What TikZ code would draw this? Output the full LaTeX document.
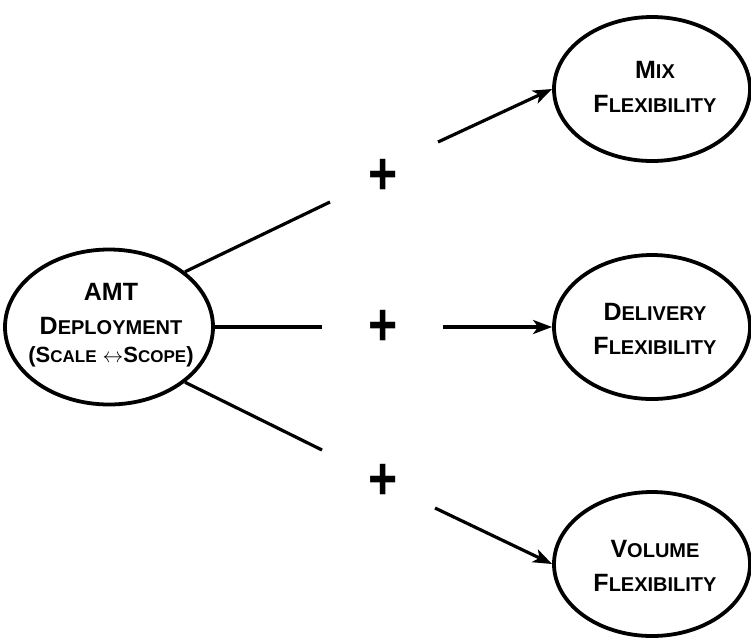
\documentclass[tikz,border=0pt]{standalone}
\usepackage{fontspec}
\setmainfont{Liberation Sans}
\usetikzlibrary{shapes.geometric,arrows.meta}
% faked small capitals for the bubble labels
\newcommand{\smc}[1]{{\fontsize{20}{20}\selectfont #1}}
\newcommand{\tinysmc}[1]{{\fontsize{17}{17}\selectfont #1}}
\begin{document}
\begin{tikzpicture}[x=1pt,y=-1pt,
  bubble/.style={ellipse, draw, line width=3.8pt, inner sep=0pt},
  target/.style={bubble, minimum width=196pt, minimum height=144pt},
  caption/.style={inner sep=0pt, align=center,
    font=\bfseries\fontsize{25}{34}\selectfont},
  link/.style={line width=3.2pt},
  flow/.style={line width=3.2pt, -{Stealth[length=19pt,width=14pt,inset=5pt]}},
  plus/.style={font=\bfseries\fontsize{50}{50}\selectfont, inner sep=0pt}]
\useasboundingbox (0,0) rectangle (751,641);

% source bubble
\node[bubble, minimum width=208pt, minimum height=155pt] (amt) at (109,327) {};
\node[caption] (amt-t) at (111,325)
  {AMT\\D\smc{EPLOYMENT}\\[-6pt]{\fontsize{22}{22}\selectfont (S\tinysmc{CALE} $\leftrightarrow$S\tinysmc{COPE})}};

% flexibility bubbles
\node[target] (mix) at (652,89)  {};
\node[target] (del) at (652,327) {};
\node[target] (vol) at (652,564) {};
\node[caption] (mix-t) at (655,86.5)  {M\smc{IX}\\F\smc{LEXIBILITY}};
\node[caption] (del-t) at (655,328.5) {D\smc{ELIVERY}\\F\smc{LEXIBILITY}};
\node[caption] (vol-t) at (655,566)   {V\smc{OLUME}\\F\smc{LEXIBILITY}};

% plus signs on each link
\node[plus] (p1) at (383,177) {\scalebox{1}[1.2]{+}};
\node[plus] (p2) at (383,328) {\scalebox{1}[1.2]{+}};
\node[plus] (p3) at (383,482) {\scalebox{1}[1.2]{+}};

% broken link ends around the plus signs
\coordinate (u1) at (330,202);
\coordinate (u2) at (438,142);
\coordinate (m1) at (322,327);
\coordinate (m2) at (443,327);
\coordinate (l1) at (322,450);
\coordinate (l2) at (435,508);

\draw[link] (amt.36) -- (u1);
\draw[flow] (u2) -- (mix.west);
\draw[link] (amt.east) -- (m1);
\draw[flow] (m2) -- (del.west);
\draw[link] (amt.-36) -- (l1);
\draw[flow] (l2) -- (vol.west);
\end{tikzpicture}
\end{document}
